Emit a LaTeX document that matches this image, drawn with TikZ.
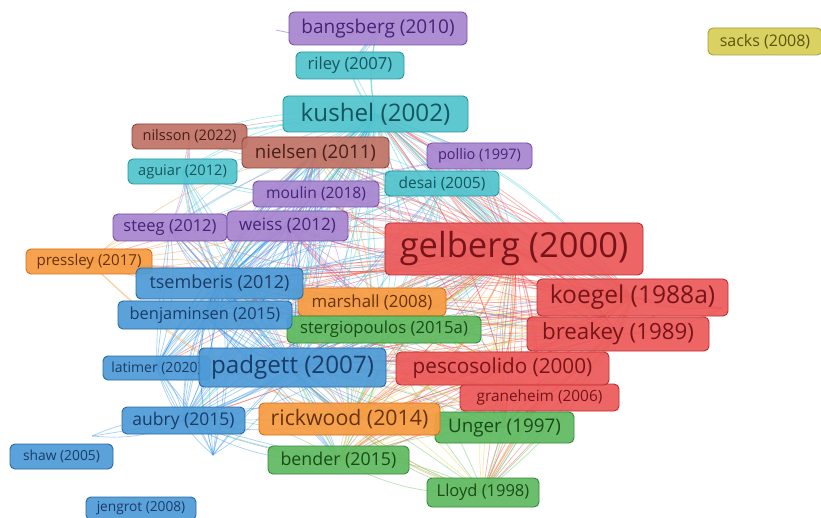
\documentclass[tikz,border=0pt]{standalone}
\usepackage{fontspec}
\setmainfont{Open Sans}
\pgfdeclarelayer{bg}
\pgfdeclarelayer{edges}
\pgfsetlayers{bg,edges,main}
\definecolor{redF}{RGB}{236,90,90}\definecolor{redD}{RGB}{190,45,50}\definecolor{redT}{RGB}{120,20,25}
\definecolor{blueF}{RGB}{78,155,215}\definecolor{blueD}{RGB}{40,105,165}\definecolor{blueT}{RGB}{25,60,105}
\definecolor{cyanF}{RGB}{82,196,206}\definecolor{cyanD}{RGB}{40,150,160}\definecolor{cyanT}{RGB}{20,85,95}
\definecolor{purpleF}{RGB}{168,134,208}\definecolor{purpleD}{RGB}{120,80,170}\definecolor{purpleT}{RGB}{70,35,120}
\definecolor{brownF}{RGB}{192,116,102}\definecolor{brownD}{RGB}{140,70,60}\definecolor{brownT}{RGB}{75,30,25}
\definecolor{orangeF}{RGB}{246,156,66}\definecolor{orangeD}{RGB}{215,110,30}\definecolor{orangeT}{RGB}{105,50,10}
\definecolor{greenF}{RGB}{96,186,96}\definecolor{greenD}{RGB}{50,140,55}\definecolor{greenT}{RGB}{25,75,25}
\definecolor{yellowF}{RGB}{216,206,88}\definecolor{yellowD}{RGB}{170,160,50}\definecolor{yellowT}{RGB}{90,85,10}
\definecolor{redE}{RGB}{240,80,80}\definecolor{blueE}{RGB}{60,150,230}\definecolor{cyanE}{RGB}{70,205,215}
\definecolor{purpleE}{RGB}{165,125,220}\definecolor{greenE}{RGB}{95,195,95}\definecolor{orangeE}{RGB}{250,160,60}
\definecolor{brownE}{RGB}{200,120,105}\definecolor{yellowE}{RGB}{225,215,70}
\tikzset{
  vnode/.style={rectangle, rounded corners=5pt, line width=0.9pt, fill opacity=0.93, text opacity=1, inner sep=0pt},
  rednode/.style={vnode, draw=redD, fill=redF, text=redT},
  bluenode/.style={vnode, draw=blueD, fill=blueF, text=blueT},
  cyannode/.style={vnode, draw=cyanD, fill=cyanF, text=cyanT},
  purplenode/.style={vnode, draw=purpleD, fill=purpleF, text=purpleT},
  brownnode/.style={vnode, draw=brownD, fill=brownF, text=brownT},
  orangenode/.style={vnode, draw=orangeD, fill=orangeF, text=orangeT},
  greennode/.style={vnode, draw=greenD, fill=greenF, text=greenT},
  yellownode/.style={vnode, draw=yellowD, fill=yellowF, text=yellowT},
  bx/.style n args={2}{minimum width=#1, minimum height=#2},
  fsz/.style={font=\fontsize{#1}{#1}\selectfont},
  edgeline/.style={line width=0.7pt, opacity=0.45},
}
\begin{document}
\begin{tikzpicture}[x=1pt,y=-1pt]
\clip (0,0) rectangle (821,518);
\begin{pgfonlayer}{bg}
\fill[white] (0,0) rectangle (821,518);
\end{pgfonlayer}
% free ends
\coordinate (f1) at (213,455);
\coordinate (f2) at (92,436);
\coordinate (f3) at (276,30);
\coordinate (f4) at (722,308);
% nodes, small first
\node[yellownode, bx={114}{27}, fsz=16] (sac) at (765,41.5) {sacks (2008)};
\node[bluenode, bx={110}{23}, fsz=13.7] (jen) at (141,508.5) {jengrot (2008)};
\node[bluenode, bx={103}{25}, fsz=13.8] (sha) at (61.5,456.5) {shaw (2005)};
\node[bluenode, bx={107}{24}, fsz=14] (lat) at (156.5,368) {latimer (2020)};
\node[rednode, bx={159}{27}, fsz=15.4] (gra) at (539.5,397.5) {graneheim (2006)};
\node[cyannode, bx={109}{25}, fsz=14.6] (agu) at (182.5,171.5) {aguiar (2012)};
\node[brownnode, bx={115}{25}, fsz=14.6] (nil) at (189.5,136.5) {nilsson (2022)};
\node[orangenode, bx={126}{25}, fsz=15.1] (pre) at (89,261.5) {pressley (2017)};
\node[purplenode, bx={105}{26}, fsz=14.5] (pol) at (479.5,156) {pollio (1997)};
\node[cyannode, bx={114}{25}, fsz=15.5] (des) at (442,183.5) {desai (2005)};
\node[cyannode, bx={108}{27}, fsz=16.6] (ril) at (350,65.5) {riley (2007)};
\node[purplenode, bx={126}{26}, fsz=15.6] (mou) at (316,194) {moulin (2018)};
\node[greennode, bx={112}{29}, fsz=16.5] (llo) at (483,492.5) {Lloyd (1998)};
\node[purplenode, bx={114}{27}, fsz=16.5] (stg) at (170,227.5) {steeg (2012)};
\node[purplenode, bx={121}{30}, fsz=17] (wei) at (287.5,226) {weiss (2012)};
\node[bluenode, bx={123}{27}, fsz=17.5] (aub) at (183.5,420.5) {aubry (2015)};
\node[greennode, bx={141}{28}, fsz=17.8] (bnd) at (338.5,460) {bender (2015)};
\node[orangenode, bx={148}{28}, fsz=16.8] (mar) at (372,302) {marshall (2008)};
\node[greennode, bx={194}{27}, fsz=16.7] (ste) at (384,329.5) {stergiopoulos (2015a)};
\node[bluenode, bx={174}{28}, fsz=16.4] (ben) at (205,315) {benjaminsen (2015)};
\node[bluenode, bx={167}{31}, fsz=18] (tse) at (219.5,283.5) {tsemberis (2012)};
\node[greennode, bx={139}{31}, fsz=18.8] (ung) at (504.5,427.5) {Unger (1997)};
\node[brownnode, bx={147}{31}, fsz=18.7] (nie) at (315.5,152.5) {nielsen (2011)};
\node[purplenode, bx={178}{33}, fsz=19] (ban) at (378,28.5) {bangsberg (2010)};
\node[orangenode, bx={181}{32}, fsz=21.3] (ric) at (349.5,419) {rickwood (2014)};
\node[rednode, bx={213}{33}, fsz=20.7] (pes) at (502.5,368.5) {pescosolido (2000)};
\node[rednode, bx={182}{34}, fsz=22.3] (bre) at (618,334) {breakey (1989)};
\node[rednode, bx={191}{37}, fsz=24.6] (koe) at (632.5,297.5) {koegel (1988a)};
\node[cyannode, bx={185}{36}, fsz=24.2] (kus) at (375.5,114) {kushel (2002)};
\node[bluenode, bx={187}{39}, fsz=24.2] (pad) at (292.5,367.5) {padgett (2007)};
\node[rednode, bx={258}{52}, fsz=34.5] (gel) at (514,249) {gelberg (2000)};
% edges
\begin{pgfonlayer}{edges}
\foreach \a/\b [count=\i] in {gel/koe, gel/bre, gel/pes, gel/gra, gel/pad, gel/tse, gel/kus, gel/nie, gel/wei, gel/mou, gel/des, gel/mar, gel/ste, gel/ric, gel/ung, gel/bnd, gel/ben, gel/aub, gel/lat, gel/pre, gel/stg, gel/pol, gel/llo, koe/bre, koe/pes, koe/pad, koe/kus, koe/tse, koe/mar, koe/des, koe/nie, koe/mou, koe/ung, koe/ric, koe/wei, koe/ste, bre/pes, bre/pad, bre/kus, bre/tse, bre/ric, bre/ste, bre/ung, bre/bnd, bre/llo, bre/des, bre/mar, pes/pad, pes/kus, pes/tse, pes/ric, pes/bnd, pes/wei, pes/ung, pes/ben, gra/llo, gra/ric, gra/pad, koe/f4, bre/f4, gel/f4}{
  \pgfmathsetmacro\bb{mod(\i*37,41)-20}
  \pgfmathsetmacro\bc{mod(\i*53,37)-18}
  \pgfmathsetmacro\bd{mod(\i*29,31)-15}
  \draw[edgeline, redE] (\a.center) to[bend left=\bb] (\b.center);
  \draw[edgeline, redE] (\a.center) to[bend left=\bc] (\b.center);
  \draw[edgeline, redE] (\a.center) to[bend left=\bd] (\b.center);
}
\foreach \a/\b [count=\i] in {pad/tse, pad/ben, pad/lat, pad/aub, pad/kus, pad/nie, pad/wei, pad/stg, pad/mou, pad/mar, pad/ste, pad/ric, pad/bnd, pad/ung, pad/des, pad/agu, tse/ben, tse/aub, tse/lat, tse/kus, tse/nie, tse/wei, tse/stg, tse/mou, tse/des, tse/mar, tse/ste, tse/ric, ben/aub, ben/lat, ben/kus, ben/nie, ben/wei, ben/ste, ben/ric, ben/bnd, aub/lat, aub/kus, aub/ric, aub/bnd, aub/ste, aub/nie, lat/kus, lat/nie, lat/stg, aub/f2, pad/f1, tse/f1, ben/f1, lat/f1, pad/gel, tse/gel, ben/gel, aub/gel, pad/koe, tse/bre, pad/pes}{
  \pgfmathsetmacro\bb{mod(\i*37,41)-20}
  \pgfmathsetmacro\bc{mod(\i*53,37)-18}
  \pgfmathsetmacro\bd{mod(\i*29,31)-15}
  \draw[edgeline, blueE] (\a.center) to[bend left=\bb] (\b.center);
  \draw[edgeline, blueE] (\a.center) to[bend left=\bc] (\b.center);
  \draw[edgeline, blueE] (\a.center) to[bend left=\bd] (\b.center);
}
\foreach \a/\b [count=\i] in {kus/ril, kus/ban, kus/nie, kus/mou, kus/wei, kus/des, kus/pol, kus/nil, kus/stg, kus/mar, kus/ste, kus/ric, kus/ung, kus/agu, kus/gel, kus/koe, kus/tse, des/mou, des/wei, des/nie, des/ric, des/ste, des/gel, des/koe, des/bre, ril/ban, agu/pad, agu/mou, agu/tse, kus/pad, kus/ben, kus/aub}{
  \pgfmathsetmacro\bb{mod(\i*37,41)-20}
  \pgfmathsetmacro\bc{mod(\i*53,37)-18}
  \pgfmathsetmacro\bd{mod(\i*29,31)-15}
  \draw[edgeline, cyanE] (\a.center) to[bend left=\bb] (\b.center);
  \draw[edgeline, cyanE] (\a.center) to[bend left=\bc] (\b.center);
  \draw[edgeline, cyanE] (\a.center) to[bend left=\bd] (\b.center);
}
\foreach \a/\b [count=\i] in {ban/ril, ban/f3, wei/stg, wei/mou, wei/nie, wei/ste, wei/ric, wei/mar, wei/gel, mou/nie, mou/stg, mou/ric, mou/gel, mou/pad, pol/des, pol/kus, pol/mou, pol/gel, stg/nil, stg/nie, stg/pad, stg/tse, wei/tse}{
  \pgfmathsetmacro\bb{mod(\i*37,41)-20}
  \pgfmathsetmacro\bc{mod(\i*53,37)-18}
  \draw[edgeline, purpleE] (\a.center) to[bend left=\bb] (\b.center);
  \draw[edgeline, purpleE] (\a.center) to[bend left=\bc] (\b.center);
}
\foreach \a/\b [count=\i] in {ste/ung, ste/bnd, ste/llo, ste/ric, ste/mar, ung/llo, ung/bnd, ung/ric, bnd/llo, bnd/ric, llo/ric, ste/gel, ung/gel, ung/pad, bnd/pad, llo/pad, llo/gra, ung/bre, llo/koe, bnd/aub, ste/tse}{
  \pgfmathsetmacro\bb{mod(\i*37,41)-20}
  \pgfmathsetmacro\bc{mod(\i*53,37)-18}
  \draw[edgeline, greenE] (\a.center) to[bend left=\bb] (\b.center);
  \draw[edgeline, greenE] (\a.center) to[bend left=\bc] (\b.center);
}
\foreach \a/\b [count=\i] in {ric/mar, ric/pre, ric/bnd, ric/ung, mar/pre, mar/tse, mar/nie, pre/tse, pre/nie, pre/wei, pre/stg, ric/gel, mar/gel, ric/pad, mar/koe, ric/koe, mar/bre, pre/gel, ric/llo}{
  \pgfmathsetmacro\bb{mod(\i*37,41)-20}
  \pgfmathsetmacro\bc{mod(\i*53,37)-18}
  \draw[edgeline, orangeE] (\a.center) to[bend left=\bb] (\b.center);
  \draw[edgeline, orangeE] (\a.center) to[bend left=\bc] (\b.center);
}
\foreach \a/\b [count=\i] in {nie/nil, nie/mou, nie/wei, nil/kus, nil/agu, nie/gel, nie/pad, nie/tse, nie/koe, nil/tse}{
  \pgfmathsetmacro\bb{mod(\i*37,41)-20}
  \draw[edgeline, brownE] (\a.center) to[bend left=\bb] (\b.center);
}
\foreach \a/\b [count=\i] in {ung/gel, llo/bre, bnd/pes, ric/koe, ste/gel, mar/bre, ung/pad, llo/tse, bnd/gel, gra/ste, llo/pes, bnd/koe}{
  \pgfmathsetmacro\bb{mod(\i*37,41)-20}
  \pgfmathsetmacro\bc{mod(\i*53,37)-18}
  \draw[edgeline, yellowE] (\a.center) to[bend left=\bb] (\b.center);
  \draw[edgeline, yellowE] (\a.center) to[bend left=\bc] (\b.center);
}
\end{pgfonlayer}
\end{tikzpicture}
\end{document}
